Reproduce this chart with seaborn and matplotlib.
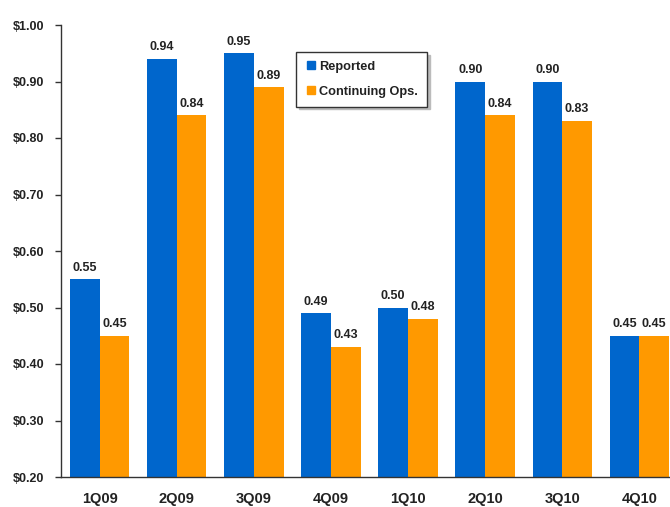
import matplotlib
matplotlib.use("Agg")
import matplotlib.pyplot as plt
import seaborn as sns
import pandas as pd
import numpy as np
from matplotlib.lines import Line2D

quarters = ["1Q09", "2Q09", "3Q09", "4Q09", "1Q10", "2Q10", "3Q10", "4Q10"]
reported = [0.55, 0.94, 0.95, 0.49, 0.50, 0.90, 0.90, 0.45]
continuing = [0.45, 0.84, 0.89, 0.43, 0.48, 0.84, 0.83, 0.45]
series = ["Reported", "Continuing Ops."]
colors = ["#0066CC", "#FF9900"]

df = pd.DataFrame({
    "quarter": quarters * 2,
    "eps": reported + continuing,
    "series": [series[0]] * len(quarters) + [series[1]] * len(quarters),
})

sns.set_style("white")
plt.rcParams["font.family"] = ["Liberation Sans", "DejaVu Sans"]
plt.rcParams["font.weight"] = "bold"

fig = plt.figure(figsize=(6.70, 5.07), dpi=100)
W, H = 670, 507
ax = fig.add_axes([61 / W, 1 - 477 / H, 617 / W, (477 - 25) / H])

sns.barplot(data=df, x="quarter", y="eps", hue="series", palette=colors,
            width=0.77, saturation=1, linewidth=0, ax=ax, legend=False)

for cont in ax.containers:
    ax.bar_label(cont, fmt="%.2f", padding=4, fontsize=9, fontweight="bold",
                 color="#222222")

ax.set_ylim(0.2, 1.0)
ax.set_xlim(-0.5, len(quarters) - 0.5)
yt = np.arange(0.2, 1.001, 0.1)
ax.set_yticks(yt)
ax.set_yticklabels([f"${v:.2f}" for v in yt], fontsize=9, fontweight="bold",
                   color="#222222")
ax.set_xticks(range(len(quarters)))
ax.set_xticklabels(quarters, fontsize=10.5, fontweight="bold", color="#222222")
ax.set_xticks(np.arange(-0.5, len(quarters), 1.0), minor=True)
ax.tick_params(axis="x", which="major", length=0, pad=11)
ax.tick_params(axis="x", which="minor", length=4, width=1, color="#333333", direction="out")
ax.tick_params(axis="y", length=4, width=1, color="#333333", direction="out", pad=8, left=True)
ax.set_xlabel("")
ax.set_ylabel("")
for s in ["top", "right"]:
    ax.spines[s].set_visible(False)
for s in ["left", "bottom"]:
    ax.spines[s].set_color("#333333")
    ax.spines[s].set_linewidth(1)

handles = [Line2D([], [], marker="s", linestyle="", markersize=6,
                  markerfacecolor=c, markeredgecolor=c) for c in colors]
leg = fig.legend(handles, series, loc="upper left",
                 bbox_to_anchor=(296 / W, 1 - 52 / H), fontsize=9.2,
                 frameon=True, fancybox=False, shadow={"color": "#bbbbbb", "alpha": 1},
                 handletextpad=0.1, handlelength=1.0, labelspacing=1.0,
                 borderpad=0.7, borderaxespad=0)
leg.get_frame().set_edgecolor("#333333")
leg.get_frame().set_linewidth(1)
for t in leg.get_texts():
    t.set_fontweight("bold")
    t.set_color("#222222")

fig.savefig("out.png", dpi=100)
